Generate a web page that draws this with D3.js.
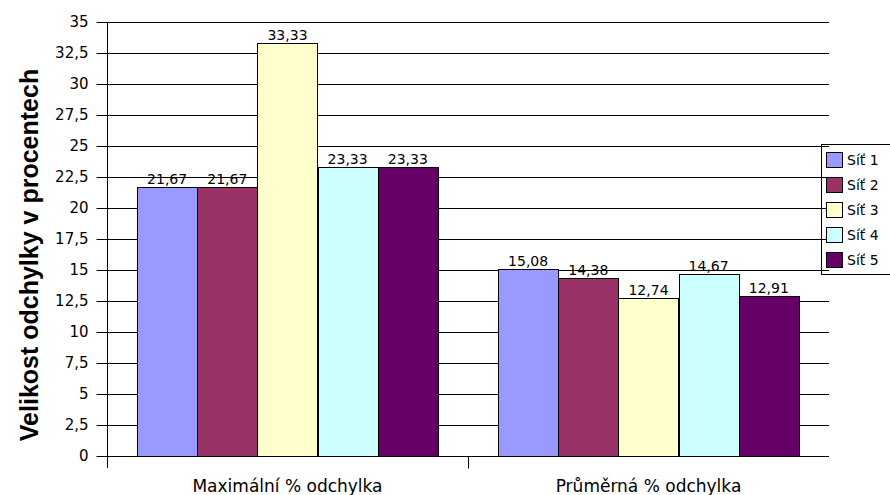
<!DOCTYPE html>
<html>
<head>
<meta charset="utf-8">
<script src="https://cdn.jsdelivr.net/npm/d3@7"></script>
<style>
  body { margin: 0; background: #fff; }
  text { font-family: "DejaVu Sans", sans-serif; fill: #000; }
</style>
</head>
<body>
<div id="chart"></div>
<script>
// data
var categories = ["Maximální % odchylka", "Průměrná % odchylka"];
var seriesNames = ["Síť 1", "Síť 2", "Síť 3", "Síť 4", "Síť 5"];
var seriesColors = ["#9999FF", "#993366", "#FFFFCC", "#CCFFFF", "#660066"];
var maxValues = [21.67, 21.67, 33.33, 23.33, 23.33];
var avgValues = [15.08, 14.38, 12.74, 14.67, 12.91];
var yTicks = [0, 2.5, 5, 7.5, 10, 12.5, 15, 17.5, 20, 22.5, 25, 27.5, 30, 32.5, 35];
var yTitle = "Velikost odchylky v procentech";

var values = [maxValues, avgValues];

var width = 890, height = 495;
var plotLeft = 107, plotRight = 829, plotTop = 22, plotBottom = 456;

var cz = d3.formatLocale({decimal: ",", thousands: " ", grouping: [3], currency: ["", ""]});
var tickFmt = cz.format("~g");
var valFmt = cz.format(".2f");

var svg = d3.select("#chart").append("svg")
    .attr("width", width)
    .attr("height", height);

var y = d3.scaleLinear().domain([0, 35]).range([plotBottom, plotTop]);

var x0 = d3.scaleBand().domain(categories).range([plotLeft, plotRight]).padding(0);
var x1 = d3.scaleBand().domain(seriesNames).range([0, x0.bandwidth()])
    .paddingInner(0).paddingOuter(0.5);

// gridlines
svg.append("g")
  .selectAll("line")
  .data(yTicks)
  .enter().append("line")
    .attr("x1", plotLeft)
    .attr("x2", plotRight)
    .attr("y1", function(d) { return Math.round(y(d)) + 0.5; })
    .attr("y2", function(d) { return Math.round(y(d)) + 0.5; })
    .style("stroke", "#000")
    .style("stroke-width", 1);

// bars
var groups = svg.append("g")
  .selectAll("g")
  .data(categories)
  .enter().append("g")
    .attr("transform", function(d) { return "translate(" + x0(d) + ",0)"; });

groups.selectAll("rect")
    .data(function(d, i) { return values[i].map(function(v, j) { return {s: seriesNames[j], v: v, c: seriesColors[j]}; }); })
  .enter().append("rect")
    .attr("x", function(d) { return Math.round(x1(d.s)) + 0.5; })
    .attr("y", function(d) { return Math.round(y(d.v)) + 0.5; })
    .attr("width", function(d) { return Math.round(x1.bandwidth()); })
    .attr("height", function(d) { return Math.round(plotBottom - y(d.v)); })
    .style("fill", function(d) { return d.c; })
    .style("stroke", "#000")
    .style("stroke-width", 1);

groups.selectAll("text")
    .data(function(d, i) { return values[i].map(function(v, j) { return {s: seriesNames[j], v: v}; }); })
  .enter().append("text")
    .attr("x", function(d) { return x1(d.s) + x1.bandwidth() / 2; })
    .attr("y", function(d) { return y(d.v) - 3; })
    .attr("text-anchor", "middle")
    .style("font-size", "14px")
    .text(function(d) { return valFmt(d.v); });

// y axis
var yAxis = d3.axisLeft(y).tickValues(yTicks).tickFormat(tickFmt).tickSize(11).tickPadding(8);
var gy = svg.append("g")
    .attr("transform", "translate(" + (plotLeft + 0.5) + ",0)")
    .call(yAxis);
gy.select(".domain").remove();
gy.selectAll(".tick text").style("font-size", "15px").attr("font-family", null);
gy.selectAll(".tick line").style("stroke", "#000");
gy.append("line")
    .attr("x1", 0).attr("x2", 0)
    .attr("y1", plotTop).attr("y2", plotBottom + 12)
    .style("stroke", "#000");

// x axis
var gx = svg.append("g")
    .attr("transform", "translate(0," + (plotBottom + 0.5) + ")");
gx.append("line")
    .attr("x1", plotLeft).attr("x2", plotRight)
    .style("stroke", "#000");
gx.selectAll("line.tk")
    .data(categories.slice(1))
  .enter().append("line")
    .attr("class", "tk")
    .attr("x1", function(d) { return Math.round(x0(d)) + 0.5; })
    .attr("x2", function(d) { return Math.round(x0(d)) + 0.5; })
    .attr("y1", 0).attr("y2", 12)
    .style("stroke", "#000");
gx.selectAll("text")
    .data(categories)
  .enter().append("text")
    .attr("x", function(d) { return x0(d) + x0.bandwidth() / 2; })
    .attr("y", 35)
    .attr("text-anchor", "middle")
    .style("font-size", "17px")
    .text(function(d) { return d; });

// y title
svg.append("text")
    .attr("transform", "translate(38," + 255 + ") rotate(-90)")
    .attr("text-anchor", "middle")
    .style("font-family", "'Liberation Sans', Arial, sans-serif")
    .style("font-weight", "bold")
    .style("font-size", "25px")
    .text(yTitle);

// legend
var legend = svg.append("g").attr("transform", "translate(821,144)");
legend.append("rect")
    .attr("x", 0.5).attr("y", 0.5)
    .attr("width", 80).attr("height", 130)
    .style("fill", "none")
    .style("stroke", "#000");
var items = legend.selectAll("g.item")
    .data(seriesNames)
  .enter().append("g")
    .attr("class", "item")
    .attr("transform", function(d, i) { return "translate(0," + (i * 25) + ")"; });
items.append("rect")
    .attr("x", 5.5).attr("y", 8.5)
    .attr("width", 16).attr("height", 15)
    .style("fill", function(d, i) { return seriesColors[i]; })
    .style("stroke", "#000");
items.append("text")
    .attr("x", 26)
    .attr("y", 21)
    .style("font-size", "14px")
    .text(function(d) { return d; });
</script>
</body>
</html>
